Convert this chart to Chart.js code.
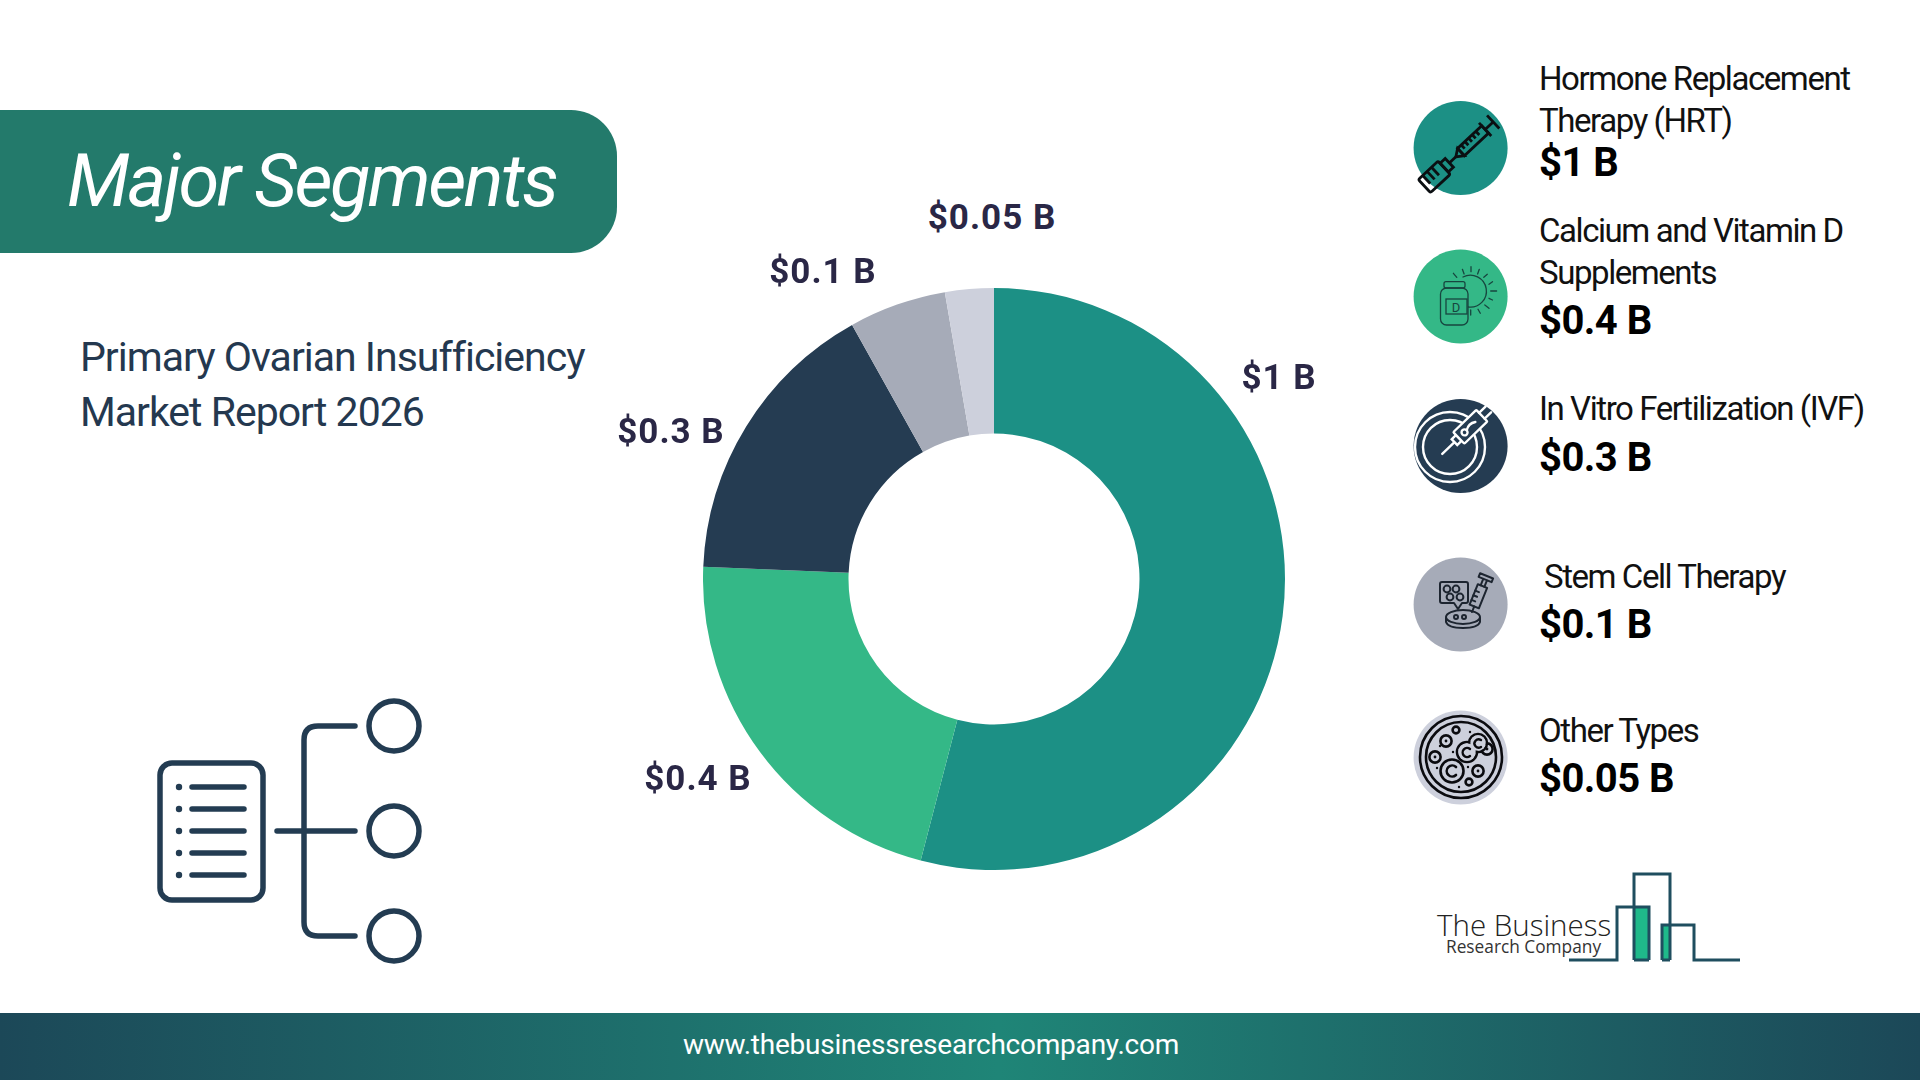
<!DOCTYPE html>
<html lang="en">
<head>
  <meta charset="UTF-8">
  <title>Major Segments</title>
  <script src="https://cdn.jsdelivr.net/npm/chart.js"></script>
  <style>
    html, body { margin: 0; padding: 0; background: #fff; }
    #page { position: relative; width: 1920px; height: 1080px; overflow: hidden; font-family: Roboto, sans-serif; }
    #page > * { position: absolute; }
    #pill { left: 0; top: 110px; width: 617px; height: 143px; background: #237a6b; border-radius: 0 46px 46px 0; }
    #pillText { left: 67px; top: 139px; color: #fff; font-size: 74px; line-height: 84px; font-style: italic; font-weight: 400; letter-spacing: -2.5px; white-space: nowrap; }
    .sub { left: 80px; color: #24384f; font-size: 41px; line-height: 48px; letter-spacing: -1px; white-space: nowrap; }
    #art { left: 0; top: 0; width: 1920px; height: 1080px; }
    #chartBox { left: 703px; top: 288px; width: 582px; height: 582px; }
    .val { transform: translate(-50%, -50%); color: #2a2746; font-size: 35px; font-weight: 700; letter-spacing: 1px; white-space: nowrap; }
    .name { transform: translateY(-50%); color: #111; font-size: 33px; font-weight: 400; letter-spacing: -1.43px; white-space: nowrap; }
    .amount { transform: translateY(-50%); color: #000; font-size: 40px; font-weight: 700; letter-spacing: -0.55px; white-space: nowrap; }
    #logoText { left: 1437px; top: 912px; color: #222; font-family: "Open Sans", sans-serif; font-weight: 300; font-size: 29.5px; line-height: 26px; white-space: pre; }
    #footer { left: 0; top: 1013px; width: 1920px; height: 67px; background: linear-gradient(90deg, #1c4858 0%, #1f8577 52%, #1c4858 100%); }
    #footerText { left: 0; top: 1014px; width: 1862px; height: 67px; text-align: center; color: #fff; font-size: 28px; line-height: 62px; letter-spacing: -0.22px; }
  </style>
</head>
<body>
<div id="page">
  <div id="pill"></div>
  <div id="pillText">Major Segments</div>
  <div class="sub" style="top:333px">Primary Ovarian Insufficiency</div>
  <div class="sub" style="top:388px">Market Report 2026</div>

  <!-- iconos y logo -->
  <svg id="art" viewBox="0 0 1920 1080" fill="none">
    <!-- icono izquierdo -->
    <g stroke="#233c52" stroke-width="5.5" stroke-linecap="round">
      <rect x="160" y="763" width="103" height="137" rx="12"/>
      <path d="M192 787H244M192 809H244M192 831H244M192 853H244M192 875H244"/>
      <path d="M277 831H355M355 726H318Q304 726 304 740V922Q304 936 318 936H355"/>
      <circle cx="394" cy="726" r="25"/>
      <circle cx="394" cy="831" r="25"/>
      <circle cx="394" cy="936" r="25"/>
    </g>
    <g fill="#233c52">
      <circle cx="179" cy="787" r="3.2"/><circle cx="179" cy="809" r="3.2"/><circle cx="179" cy="831" r="3.2"/>
      <circle cx="179" cy="853" r="3.2"/><circle cx="179" cy="875" r="3.2"/>
    </g>

    <!-- circulos de la leyenda -->
    <circle cx="1460.6" cy="148" r="47" fill="#1c9085"/>
    <circle cx="1460.6" cy="296.5" r="47" fill="#34b887"/>
    <circle cx="1460.6" cy="446" r="47" fill="#253c52"/>
    <circle cx="1460.6" cy="604.5" r="47" fill="#a6abb8"/>
    <circle cx="1460.6" cy="757.5" r="47" fill="#cdd0dc"/>

    <!-- jeringa HRT -->
    <g transform="translate(1461 152) rotate(-43)" stroke="#0b0f12" stroke-width="2.8">
      <rect x="-50" y="-9" width="27" height="18" rx="2"/>
      <path d="M-44 -9V2M-38 -9V2M-32 -9V2"/>
      <rect x="-23" y="-6" width="7" height="12"/>
      <path d="M-16 0H-7"/>
      <path d="M-7 0L0 -5V5Z"/>
      <rect x="0" y="-5" width="33" height="10"/>
      <path d="M5 -5V0M10 -5V0M15 -5V0M20 -5V0M25 -5V0"/>
      <path d="M33 -9V9M33 0H44M44 -9V9"/>
    </g>

    <!-- vitamina D -->
    <g stroke="#17463f" stroke-width="1.3" stroke-linecap="round">
      <path d="M1463 277A16 16 0 1 1 1468 307"/>
      <path d="M1453.4 273.3L1456.8 277.3M1462.4 269.3L1464.1 274M1471 266.7V271.7M1479.3 269.3L1477.6 274M1487.3 274.3L1483.8 277.3M1492.5 281.7L1489 284.3M1496.6 291H1490.7M1492.5 300L1489 298.3M1489 308.3L1484.8 305M1480.3 313.3L1478 309.3M1470.7 315V310"/>
      <rect x="1440.5" y="288" width="27.5" height="37" rx="6" fill="#34b887"/>
      <rect x="1444" y="281.7" width="21" height="6.3" rx="2"/>
      <rect x="1446" y="299" width="21" height="15"/>
    </g>
    <text x="1456" y="311.5" fill="#17463f" font-family="Roboto" font-size="13" text-anchor="middle">D</text>

    <!-- FIV -->
    <g stroke="#fff" stroke-width="2.4" stroke-linecap="round">
      <circle cx="1450" cy="447" r="35"/>
      <circle cx="1450" cy="447" r="27"/>
      <g transform="translate(1466 431) rotate(-44)" fill="#253c52">
        <path d="M-33 0H-16"/>
        <rect x="-16" y="-4" width="6" height="8"/>
        <rect x="-10" y="-8" width="32" height="16" rx="1"/>
        <circle cx="-2" cy="0" r="3"/>
        <path d="M1 0Q7 -4 13 0"/>
        <path d="M22 -4H31M22 4H31"/>
      </g>
    </g>

    <!-- celulas madre -->
    <g stroke="#1d2530" stroke-width="2" stroke-linecap="round" stroke-linejoin="round">
      <path d="M1442 582H1466Q1468 582 1468 584V601Q1468 603 1466 603H1462L1458 609L1454 603H1442Q1440 603 1440 601V584Q1440 582 1442 582Z"/>
      <circle cx="1447" cy="589" r="3.4"/><circle cx="1456" cy="589" r="3.4"/>
      <circle cx="1450" cy="597" r="3.4"/><circle cx="1460" cy="597" r="3.4"/>
      <ellipse cx="1463" cy="617" rx="17" ry="7"/>
      <path d="M1446 618V622Q1448 628 1463 628Q1478 628 1480 622V618"/>
      <circle cx="1456" cy="617" r="2"/><circle cx="1464" cy="617" r="2"/>
      <g transform="translate(1472 612) rotate(-68)">
        <path d="M0 0H6"/>
        <rect x="6" y="-5" width="22" height="10"/>
        <path d="M11 -5V-1M16 -5V-1M21 -5V-1"/>
        <path d="M28 -2H35M28 2H35M35 -7V7M39 -7V7M35 -7H39M35 7H39"/>
      </g>
    </g>

    <!-- otros -->
    <g stroke="#0b0b0f" stroke-width="2.6" stroke-linecap="round">
      <circle cx="1461" cy="757" r="41"/>
      <circle cx="1461" cy="757" r="35"/>
      <circle cx="1456" cy="730" r="3.4"/>
      <circle cx="1446" cy="741" r="5.6"/><circle cx="1435" cy="757" r="5.6"/>
      <circle cx="1452" cy="771" r="11.5"/>
      <path d="M1456 767A5.5 5.5 0 1 0 1456 775"/>
      <circle cx="1469" cy="782" r="3.4"/>
      <circle cx="1478" cy="771" r="5.6"/><circle cx="1487" cy="749" r="5.6"/>
      <circle cx="1467" cy="752" r="10"/>
      <circle cx="1478" cy="743" r="9"/>
    </g>
    <g fill="#cdd0dc">
      <circle cx="1467" cy="752" r="8.7"/>
      <circle cx="1478" cy="743" r="7.7"/>
    </g>
    <path d="M1470 749A4.5 4.5 0 1 0 1470 756M1481 740A4.2 4.2 0 1 0 1481 747" stroke="#0b0b0f" stroke-width="2.4" stroke-linecap="round"/>
    <g fill="#0b0b0f">
      <circle cx="1470" cy="732" r="1.2"/><circle cx="1440" cy="746" r="1.2"/><circle cx="1437" cy="768" r="1.2"/>
      <circle cx="1453" cy="752" r="1.2"/><circle cx="1468" cy="767" r="1.2"/><circle cx="1459" cy="787" r="1.2"/>
      <circle cx="1446" cy="741" r="1.4"/><circle cx="1435" cy="757" r="1.4"/><circle cx="1478" cy="771" r="1.4"/><circle cx="1487" cy="749" r="1.4"/>
    </g>

    <!-- logo -->
    <rect x="1634" y="908" width="15" height="52" fill="#1fb98a"/>
    <rect x="1662" y="925" width="8" height="35" fill="#1fb98a"/>
    <path d="M1569 960H1617V907H1649V960M1634 960V874H1670V960M1662 960V925H1694V960H1740M1634 960H1649M1662 960H1670" stroke="#1f4e5f" stroke-width="3"/>
  </svg>

  <div id="chartBox"><canvas id="donut"></canvas></div>

  <div id="logoText">The Business<span style="display:block;margin-left:9px;font-size:17.3px;font-weight:400;line-height:17px;color:#333">Research Company</span></div>

  <div id="footer"></div>
  <div id="footerText">www.thebusinessresearchcompany.com</div>
</div>

<script>
  // Datos del grafico
  const segments = ['Hormone Replacement Therapy (HRT)', 'Calcium and Vitamin D Supplements', 'In Vitro Fertilization (IVF)', 'Stem Cell Therapy', 'Other Types'];
  const nameLines = [['Hormone Replacement', 'Therapy (HRT)'], ['Calcium and Vitamin D', 'Supplements'], ['In Vitro Fertilization (IVF)'], ['Stem Cell Therapy'], ['Other Types']];
  const values = [1, 0.4, 0.3, 0.1, 0.05];
  const colors = ['#1c9085', '#34b887', '#253c52', '#a6abb8', '#cdd0dc'];

  // Posiciones de las etiquetas en la pagina
  const valuePos = [[1279, 377], [698, 778], [671, 431], [823, 271], [992, 217]];
  const nameX = [1539, 1539, 1539, 1544, 1539];
  const nameY = [[78, 120], [230, 272], [408], [576], [730]];
  const amountY = [162, 320, 457, 624, 778];

  const money = v => '$' + v + ' B';
  const page = document.getElementById('page');

  function addText(cls, text, x, y) {
    const el = document.createElement('div');
    el.className = cls;
    el.textContent = text;
    el.style.left = x + 'px';
    el.style.top = y + 'px';
    page.appendChild(el);
  }

  values.forEach((v, i) => {
    addText('val', money(v), valuePos[i][0], valuePos[i][1]);
    nameLines[i].forEach((line, j) => addText('name', line, nameX[i], nameY[i][j]));
    addText('amount', money(v), 1539, amountY[i]);
  });

  new Chart(document.getElementById('donut'), {
    type: 'doughnut',
    data: {
      labels: segments,
      datasets: [{ data: values, backgroundColor: colors, borderWidth: 0 }]
    },
    options: {
      responsive: true,
      maintainAspectRatio: false,
      animation: false,
      cutout: '50%',
      plugins: { legend: { display: false }, tooltip: { enabled: false } }
    }
  });
</script>
</body>
</html>
